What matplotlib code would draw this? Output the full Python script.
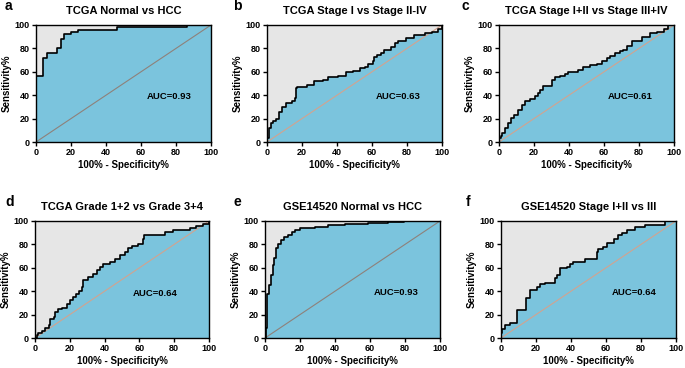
import numpy as np
import matplotlib
matplotlib.use("Agg")
import matplotlib.pyplot as plt

plt.rcParams['font.family'] = ['Liberation Sans', 'DejaVu Sans']

# panel titles, letters, AUC values
titles = ["TCGA Normal vs HCC", "TCGA Stage I vs Stage II-IV", "TCGA Stage I+II vs Stage III+IV",
          "TCGA Grade 1+2 vs Grade 3+4", "GSE14520 Normal vs HCC", "GSE14520 Stage I+II vs III"]
letters = ["a", "b", "c", "d", "e", "f"]
auc_vals = [0.93, 0.63, 0.61, 0.64, 0.93, 0.64]
auc_pos = [(76, 39), (75, 39), (75, 39), (69, 38), (75, 39), (76, 39)]

# ROC curves (100% - specificity, sensitivity)
fpr_a = [0, 0, 4, 6, 12, 14, 16, 20, 24, 46, 86, 100]
tpr_a = [0, 56, 72, 76, 80, 88, 92, 94, 96, 98, 100, 100]

fpr_b = [0, 0, 1, 2, 3.4, 5, 7, 8.5, 11, 14, 16, 16.5, 17, 23, 27, 32, 35, 40.5, 45, 49, 53, 56,
         57.6, 60.5, 61.4, 63, 65, 67, 71, 73, 75, 79.5, 84, 90, 94, 97.5, 100]
tpr_b = [0, 3, 12, 16, 17.6, 20, 25.6, 30, 33, 35, 37.5, 46, 47, 49, 52, 53, 55.4, 56.5, 60, 61, 63, 64,
         67, 69, 72.4, 74, 76, 79, 81.5, 84.4, 86.6, 88.6, 91.5, 93, 94, 97, 100]

fpr_c = [0, 0, 1, 2, 3.4, 5.3, 6.7, 8.8, 11, 13, 15, 17.7, 20.5, 22.5, 23.4, 25.3, 30, 32, 35, 37.7,
         39.6, 45, 48, 52, 55.8, 58.7, 61.5, 63.4, 66.3, 69, 71, 73, 75.8, 81.5, 86, 90, 94, 96.8, 100]
tpr_c = [0, 3, 5, 7.7, 12, 16, 20.5, 23, 27.5, 32, 35, 36.6, 39, 42, 44.6, 48, 53, 55.4, 56.5, 58,
         60, 61.6, 64.5, 66, 67, 69.6, 71.6, 73.6, 76.4, 78, 79, 82, 86.6, 90, 93.5, 94.3, 97, 100, 100]

fpr_d = [0, 1.1, 2, 4, 6, 7.8, 8.8, 10.7, 11.6, 13, 15.5, 18.3, 20.2, 21.8, 23.7, 25, 27, 27.5, 30.2,
         33.6, 35.9, 37.4, 39.3, 43, 46, 48.9, 51.7, 53.6, 55.5, 59.4, 61.8, 62.6, 68, 74.6, 79.4, 89,
         92.7, 96.6, 100]
tpr_d = [0, 2.3, 4, 6, 8.5, 11, 16, 18, 22.6, 25, 26, 29, 32.6, 35.4, 38, 40, 44, 49.6, 52.4,
         55, 58, 61, 63, 65, 67.4, 70.8, 73.6, 76.5, 78.8, 80.7, 85, 87.8, 88.4, 90.7, 92.6, 94,
         95.7, 97.7, 100]

fpr_e = [0, 0.4, 0.9, 1.3, 2.3, 3.2, 4.4, 5.3, 6, 7.6, 9.1, 11, 13.3, 15.2, 17, 20, 28.5, 36, 45.5,
         58.8, 70, 79.7, 100]
tpr_e = [0, 8.5, 20, 38, 45, 54, 62, 68, 76.5, 80, 83.6, 86.4, 88.4, 90.7, 92.6, 94.3, 95, 97, 97.7,
         98.6, 99, 100, 100]

fpr_f = [0, 0, 0.6, 2, 5.3, 9.1, 14.4, 16.7, 20.5, 22.4, 25.3, 31, 32, 33.8, 37.6, 39.5, 41.4, 48.1,
         54.7, 55.7, 58.5, 60.5, 64.3, 67, 69, 71.9, 76.6, 82.3, 93.7, 100]
tpr_f = [0, 4, 8, 10.8, 12.7, 24, 34.6, 41, 44, 46, 47.3, 51.6, 54, 59.5, 61, 63, 65, 67.4,
         73.6, 76, 78, 81.6, 85, 87.8, 90, 92, 95, 97, 100, 100]

curves = [(fpr_a, tpr_a), (fpr_b, tpr_b), (fpr_c, tpr_c), (fpr_d, tpr_d), (fpr_e, tpr_e), (fpr_f, tpr_f)]

# axes boxes in pixels: left, right, top, bottom
boxes = [(36, 211, 25, 142), (267, 442, 25, 142), (499, 674, 25, 142),
         (35, 209, 221, 338), (265, 440, 221, 338), (501, 676, 221, 338)]
letter_x = [5, 233, 461, 5, 234, 466]

W, H = 685, 368
fig = plt.figure(figsize=(W / 100, H / 100), dpi=100)

blue = "#7bc4dd"
grey = "#e6e6e6"
diag_cols = ["#8e817a", "#d2a38f", "#d2a38f", "#d2a38f", "#8e817a", "#d2a38f"]

for i in range(6):
    l, r, t, b = boxes[i]
    ax = fig.add_axes([l / W, (H - b) / H, (r - l) / W, (b - t) / H])
    ax.set_facecolor(grey)
    x = np.array(curves[i][0])
    y = np.array(curves[i][1])
    ax.fill_between(x, y, 0, step='post', color=blue, lw=0, zorder=1)
    ax.plot([0, 100], [0, 100], color=diag_cols[i], lw=0.8, zorder=2)
    ax.plot(x, y, drawstyle='steps-post', color='black', lw=1.2, zorder=3)
    ax.set_xlim(0, 100)
    ax.set_ylim(0, 100)
    ax.set_xticks(np.arange(0, 101, 20))
    ax.set_yticks(np.arange(0, 101, 20))
    ax.tick_params(length=3, width=1, labelsize=6.5, pad=1.5)
    for lab in ax.get_xticklabels() + ax.get_yticklabels():
        lab.set_fontweight('bold')
    for sp in ax.spines.values():
        sp.set_linewidth(1)
    ax.set_xlabel("100% - Specificity%", fontsize=7, fontweight='bold', labelpad=2)
    ax.set_ylabel("Sensitivity%", fontsize=7, fontweight='bold', labelpad=2)
    ax.set_title(titles[i], fontsize=8, fontweight='bold', pad=8)
    ax.text(auc_pos[i][0], auc_pos[i][1], "AUC=%.2f" % auc_vals[i], fontsize=6.8,
            fontweight='bold', ha='center', va='center')
    fig.text(letter_x[i] / W, 1 - (t - 19) / H, letters[i], fontsize=10, fontweight='bold',
             ha='left', va='center')

fig.savefig("out.png", dpi=100)
